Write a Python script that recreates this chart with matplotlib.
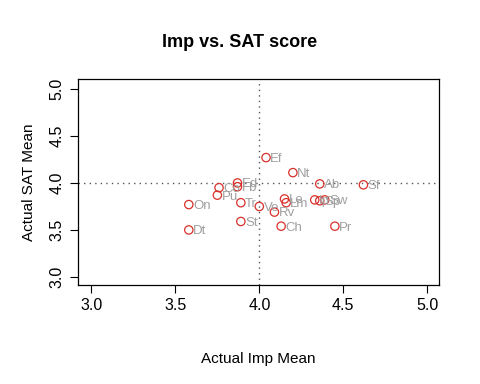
import matplotlib
matplotlib.use("Agg")
import matplotlib.pyplot as plt

labels = ["Ef", "Nt", "Ab", "Sf", "Co", "Fb", "Ed", "Pu", "On", "Dt", "Tr", "Ve", "Rv", "St", "Ch", "Pr", "Le", "Lm", "Ip", "Sp", "Sw"]
imp = [4.04, 4.20, 4.36, 4.62, 3.76, 3.87, 3.87, 3.75, 3.58, 3.58, 3.89, 4.00, 4.09, 3.89, 4.13, 4.45, 4.15, 4.16, 4.33, 4.36, 4.39]
sat = [4.27, 4.11, 3.99, 3.98, 3.95, 3.96, 4.00, 3.87, 3.77, 3.50, 3.79, 3.75, 3.69, 3.59, 3.54, 3.54, 3.83, 3.79, 3.82, 3.81, 3.82]
ticks = [3.0, 3.5, 4.0, 4.5, 5.0]
tick_labels = ["3.0", "3.5", "4.0", "4.5", "5.0"]

plt.rcParams['font.family'] = ['Liberation Sans', 'DejaVu Sans']

fig = plt.figure(figsize=(4.8, 3.84), dpi=100)
ax = fig.add_axes([0.1625, 0.258, 0.752, 0.536])
ax.set_xlim(2.92, 5.07)
ax.set_ylim(2.915, 5.105)

ax.axvline(4.0, color='#555555', linestyle=(0, (1, 3)), linewidth=1)
ax.axhline(4.0, color='#555555', linestyle=(0, (1, 3)), linewidth=1)

ax.scatter(imp, sat, s=36, facecolors='none', edgecolors='#d9302a', linewidths=0.9, zorder=3)
for lab, x, y in zip(labels, imp, sat):
    ax.annotate(lab, (x, y), xytext=(3, -1), textcoords='offset points',
                ha='left', va='center', color='#a0a0a0', fontsize=9.5)

ax.set_xticks(ticks)
ax.set_xticklabels(tick_labels)
ax.set_yticks(ticks)
ax.set_yticklabels(tick_labels, rotation=90, va='center')
ax.tick_params(direction='out', length=6, labelsize=11.5, width=0.8)
for sp in ax.spines.values():
    sp.set_linewidth(0.9)

ax.set_xlabel("Actual Imp Mean", fontsize=11, labelpad=28)
ax.set_ylabel("Actual SAT Mean", fontsize=11, labelpad=10)
fig.text(0.5, 0.89, "Imp vs. SAT score", ha='center', va='center', fontsize=13, fontweight='bold')

fig.savefig("out.png", dpi=100)
